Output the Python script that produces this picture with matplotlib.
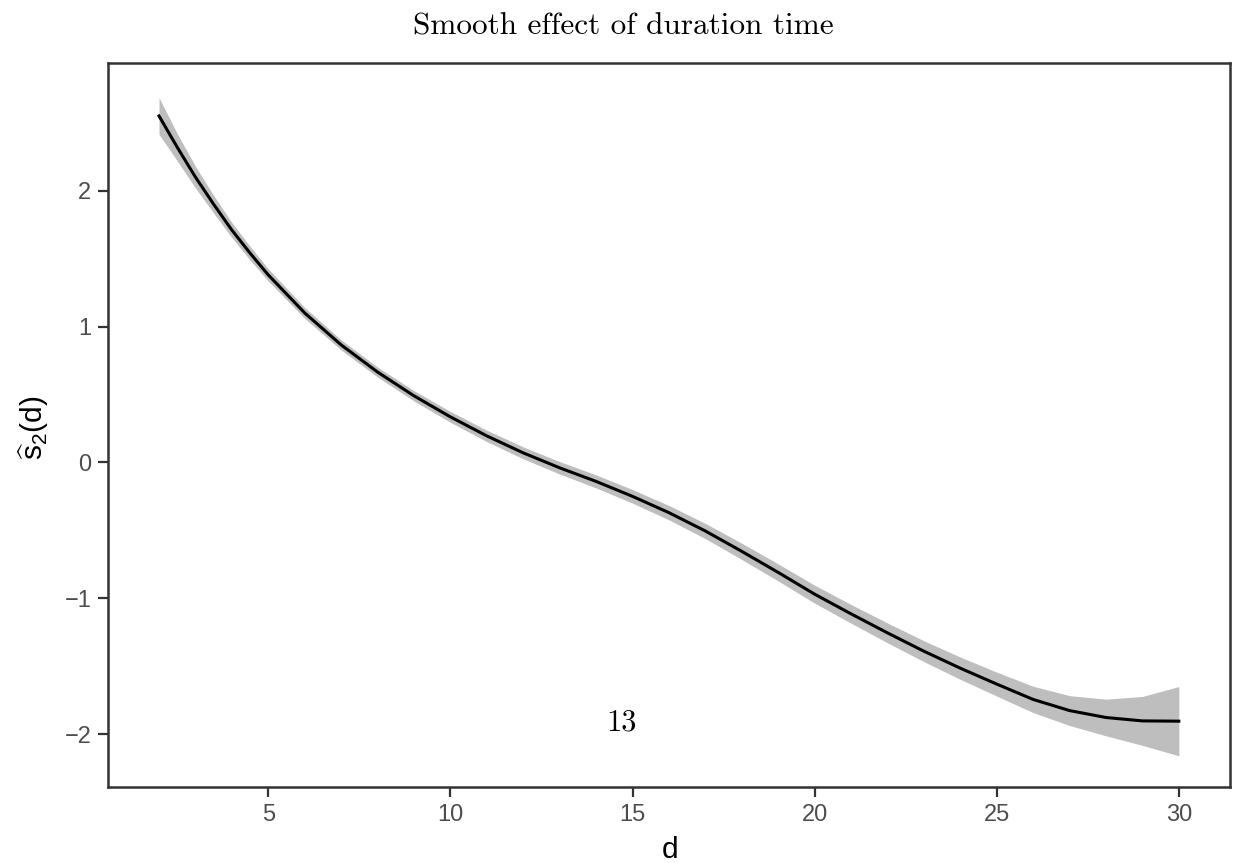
import numpy as np
import matplotlib
matplotlib.use("Agg")
import matplotlib.pyplot as plt

# smooth term estimate for duration time d, with pointwise band half-width
d = [2, 2.5, 3, 3.5, 4, 4.5, 5, 6, 7, 8, 9, 10, 11, 12, 13, 14, 15, 16,
     17, 18, 19, 20, 21, 22, 23, 24, 25, 26, 27, 28, 29, 30]
s2_hat = [2.55, 2.32, 2.10, 1.90, 1.71, 1.54, 1.38, 1.10, 0.865, 0.665,
          0.49, 0.335, 0.195, 0.07, -0.04, -0.14, -0.25, -0.37, -0.505,
          -0.655, -0.81, -0.97, -1.115, -1.255, -1.39, -1.515, -1.632,
          -1.745, -1.827, -1.878, -1.903, -1.905]
half_width = [0.135, 0.10, 0.08, 0.065, 0.055, 0.05, 0.045, 0.04, 0.037,
              0.037, 0.038, 0.04, 0.042, 0.044, 0.046, 0.048, 0.05, 0.053,
              0.056, 0.06, 0.063, 0.066, 0.069, 0.073, 0.077, 0.082, 0.088,
              0.097, 0.11, 0.135, 0.18, 0.255]
x_ticks = [5, 10, 15, 20, 25, 30]
y_ticks = [-2, -1, 0, 1, 2]
y_tick_labels = ['\u22122', '\u22121', '0', '1', '2']
note_text = "13"
note_pos = (14.71, -1.92)

d = np.array(d)
s2_hat = np.array(s2_hat)
half_width = np.array(half_width)

plt.rcParams['font.family'] = ['Liberation Sans', 'DejaVu Sans']
plt.rcParams['mathtext.fontset'] = 'custom'
plt.rcParams['mathtext.rm'] = 'Liberation Sans'
plt.rcParams['mathtext.it'] = 'Liberation Sans'

fig = plt.figure(figsize=(12.36, 8.63), dpi=100)
ax = fig.add_axes([0.0874, 0.088, 0.9076, 0.839])

ax.fill_between(d, s2_hat - half_width, s2_hat + half_width, color='#BEBEBE', lw=0)
ax.plot(d, s2_hat, color='black', lw=2.2, solid_joinstyle='round')

ax.text(note_pos[0], note_pos[1], note_text, fontfamily='cmr10', fontsize=22,
        ha='center', va='center')

ax.set_xlim(0.6, 31.4)
ax.set_ylim(-2.39, 2.94)
ax.set_xticks(x_ticks)
ax.set_yticks(y_ticks)
ax.set_yticklabels(y_tick_labels)
ax.tick_params(colors='#333333', labelcolor='#4D4D4D', labelsize=17, length=7,
               width=1.6, pad=5)
for sp in ax.spines.values():
    sp.set_color('#333333')
    sp.set_linewidth(1.8)

fig.text(0.542, 0.006, 'd', fontsize=21.5, ha='center', va='baseline')
fig.text(0.027, 0.504, r'$\widehat{\mathrm{s}}_{2}\mathrm{(d)}$', fontsize=21.5,
         rotation=90, ha='center', va='center')
fig.text(0.504, 0.9606, 'Smooth effect of duration time', fontfamily='cmr10',
         fontsize=22.5, ha='center', va='baseline')

fig.savefig('out.png', dpi=100)
